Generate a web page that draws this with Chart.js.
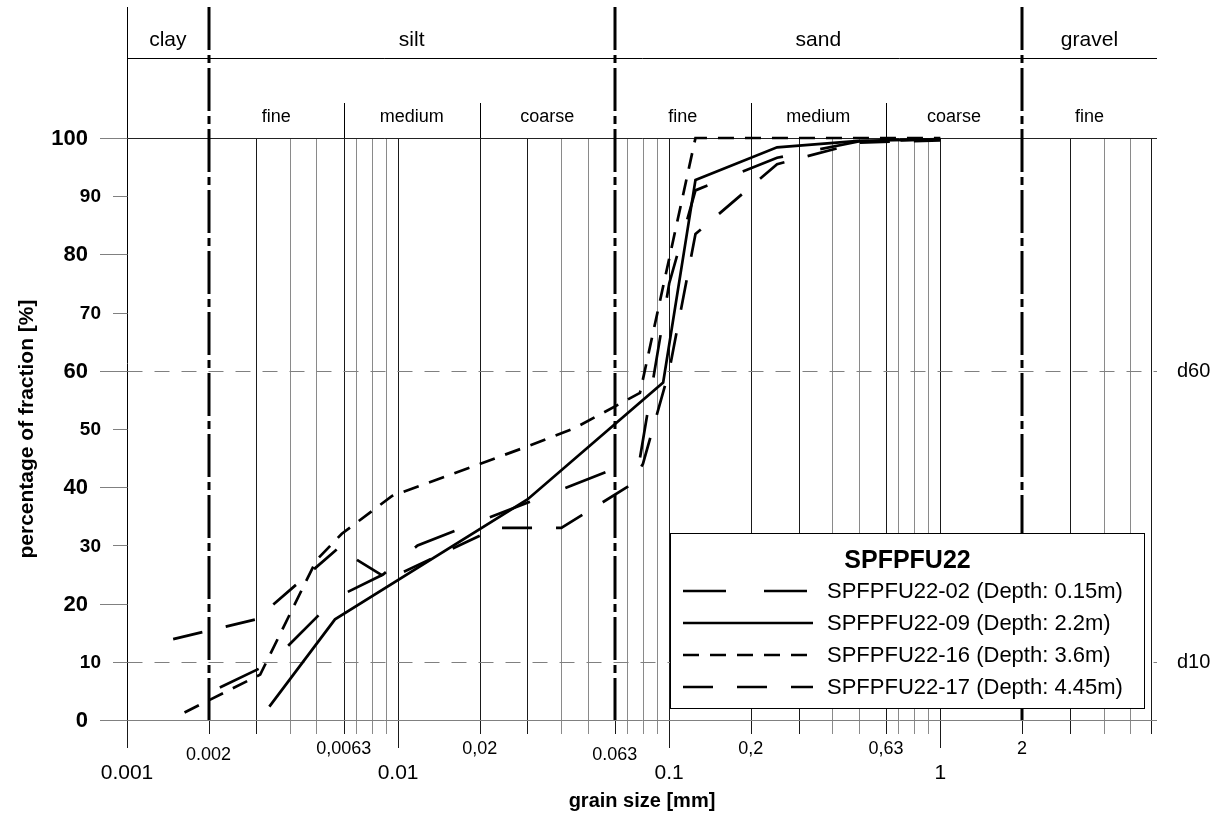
<!DOCTYPE html>
<html>
<head>
<meta charset="utf-8">
<title>SPFPFU22 grain size distribution</title>
<script src="https://cdn.jsdelivr.net/npm/chart.js@4.4.1/dist/chart.umd.min.js"></script>
<style>
  html, body { margin: 0; padding: 0; background: #fff; }
  #wrap { width: 1221px; height: 814px; }
</style>
</head>
<body>
<div id="wrap"><canvas id="grain-curve"></canvas></div>
<script>
const FONT = '"Liberation Sans", Arial, sans-serif';
Chart.defaults.font.family = FONT;

// grain size [mm] / passing [%] per sample
const size02 = [0.0022, 0.0034, 0.0059, 0.0088, 0.0118, 0.06, 0.078, 0.1, 0.125, 0.25, 0.5, 1.0];
const pass02 = [5.6, 9.8, 21, 25, 30, 42.8, 45, 75, 91, 96.6, 99.4, 99.8];

const size09 = [0.00335, 0.00585, 0.03, 0.095, 0.125, 0.25, 0.5, 1.0];
const pass09 = [2.3, 17.3, 37.9, 58, 92.8, 98.4, 99.5, 99.8];

const size16 = [0.00163, 0.0031, 0.005, 0.0062, 0.0095, 0.03, 0.045, 0.078, 0.125, 0.25, 0.5, 1.0];
const pass16 = [1.3, 7.8, 27.5, 32, 38.5, 47, 50.2, 56.2, 100, 100, 100, 100];

const size17 = [0.00148, 0.003, 0.006, 0.0092, 0.023, 0.04, 0.071, 0.08, 0.1, 0.125, 0.25, 0.5, 1.0];
const pass17 = [13.9, 17.3, 29.5, 24.2, 33, 33, 40.2, 44, 60, 83.5, 95.5, 99.2, 99.6];

const sampleNames = ['SPFPFU22-02 (Depth: 0.15m)', 'SPFPFU22-09 (Depth: 2.2m)',
                     'SPFPFU22-16 (Depth: 3.6m)', 'SPFPFU22-17 (Depth: 4.45m)'];

// soil classes along the size axis
const mainClasses = ['clay', 'silt', 'sand', 'gravel'];
const mainLimits = [0.001, 0.002, 0.063, 2, 6.3];
const subClasses = ['fine', 'medium', 'coarse', 'fine', 'medium', 'coarse', 'fine'];
const subLimits = [0.002, 0.0063, 0.02, 0.063, 0.2, 0.63, 2, 6.3];

// axis labelling
const decadeTicks = [0.001, 0.01, 0.1, 1];
const decadeLabels = ['0.001', '0.01', '0.1', '1'];
const limitTicks = [0.002, 0.0063, 0.02, 0.063, 0.2, 0.63, 2];
const limitLabels = ['0.002', '0,0063', '0,02', '0.063', '0,2', '0,63', '2'];
const yTicks = [0, 10, 20, 30, 40, 50, 60, 70, 80, 90, 100];
const dLines = [60, 10];
const dLabels = ['d60', 'd10'];

const pts = (s, p) => s.map((v, i) => ({ x: v, y: p[i] }));
const f = (px, bold) => (bold ? 'bold ' : '') + px + 'px ' + FONT;
const near = (a, b) => Math.abs(a / b - 1) < 1e-6;

// vertical grid: 1..9 per decade, the 0.0063-type limits replace the 6-lines
function gridValues() {
  const out = [];
  for (const d of decadeTicks) {
    for (let m = 1; m <= 9; m++) {
      const v = m * d;
      if (v > 6.3 + 1e-9) continue;
      if (m === 6 && d < 1) { out.push({ v: 6.3 * d, dark: true }); continue; }
      out.push({ v, dark: m === 1 || m === 2 || m === 3 || m === 6 });
    }
  }
  return out;
}
const thickValues = [0.002, 0.063, 2];

const sieveFrame = {
  id: 'sieveFrame',
  beforeDatasetsDraw(chart) {
    const { ctx, chartArea: a, scales: { x, y } } = chart;
    const yTop = 7, yMid = 58, ySub = 103;
    const y0 = y.getPixelForValue(0), y100 = y.getPixelForValue(100);
    ctx.save();
    ctx.lineCap = 'butt';

    // vertical grid lines and x ticks
    for (const g of gridValues()) {
      const px = Math.round(x.getPixelForValue(g.v)) + 0.5;
      const isThick = thickValues.some(t => near(t, g.v));
      const isDecade = decadeTicks.some(t => near(t, g.v));
      ctx.strokeStyle = g.dark ? '#1a1a1a' : '#8a8a8a';
      ctx.lineWidth = 1;
      ctx.beginPath();
      if (!isThick && !near(g.v, 0.001)) { ctx.moveTo(px, y100); ctx.lineTo(px, y0); }
      ctx.moveTo(px, y0);
      ctx.lineTo(px, y0 + (isDecade ? 28 : 14));
      ctx.stroke();
    }

    // left axis line running through the header
    const xl = Math.round(a.left) + 0.5;
    ctx.strokeStyle = '#000';
    ctx.beginPath(); ctx.moveTo(xl, yTop); ctx.lineTo(xl, y0); ctx.stroke();

    // header rules
    const xr = a.right;
    ctx.beginPath();
    ctx.moveTo(xl, yMid + 0.5); ctx.lineTo(xr, yMid + 0.5);
    ctx.stroke();
    ctx.strokeStyle = '#222';
    ctx.beginPath();
    ctx.moveTo(xl, Math.round(y100) + 0.5); ctx.lineTo(xr, Math.round(y100) + 0.5);
    ctx.stroke();
    ctx.strokeStyle = '#000';
    for (const v of [0.0063, 0.02, 0.2, 0.63]) {
      const px = Math.round(x.getPixelForValue(v)) + 0.5;
      ctx.beginPath(); ctx.moveTo(px, ySub); ctx.lineTo(px, y100); ctx.stroke();
    }

    // y ticks, 0 axis, d-lines
    ctx.strokeStyle = '#808080';
    for (const v of yTicks) {
      const py = Math.round(y.getPixelForValue(v)) + 0.5;
      ctx.beginPath(); ctx.moveTo(v % 20 === 0 ? 100 : 113, py); ctx.lineTo(xl, py); ctx.stroke();
    }
    ctx.beginPath(); ctx.moveTo(xl, Math.round(y0) + 0.5); ctx.lineTo(xr, Math.round(y0) + 0.5); ctx.stroke();
    ctx.setLineDash([15, 12]);
    for (const v of dLines) {
      const py = Math.round(y.getPixelForValue(v)) + 0.5;
      ctx.beginPath(); ctx.moveTo(xl, py); ctx.lineTo(xr, py); ctx.stroke();
    }

    // class limits: heavy dash-dot lines
    ctx.strokeStyle = '#000';
    ctx.lineWidth = 3;
    ctx.setLineDash([43, 5, 8, 5]);
    for (const v of thickValues) {
      const px = Math.round(x.getPixelForValue(v));
      ctx.beginPath(); ctx.moveTo(px, yTop); ctx.lineTo(px, y0); ctx.stroke();
    }
    ctx.setLineDash([]);

    // header texts
    ctx.fillStyle = '#000';
    ctx.textAlign = 'center';
    ctx.textBaseline = 'middle';
    ctx.font = f(21);
    mainClasses.forEach((name, i) => {
      const cx = (x.getPixelForValue(mainLimits[i]) + x.getPixelForValue(mainLimits[i + 1])) / 2;
      ctx.fillText(name, cx, 40);
    });
    ctx.font = f(18);
    subClasses.forEach((name, i) => {
      const cx = (x.getPixelForValue(subLimits[i]) + x.getPixelForValue(subLimits[i + 1])) / 2;
      ctx.fillText(name, cx, 117);
    });

    // y labels
    ctx.textAlign = 'right';
    for (const v of yTicks) {
      const major = v % 20 === 0;
      ctx.font = f(major ? 22 : 19, true);
      ctx.fillText(String(v), major ? 88 : 101, y.getPixelForValue(v) + 1);
    }
    ctx.textAlign = 'left';
    ctx.font = f(20);
    dLines.forEach((v, i) => ctx.fillText(dLabels[i], 1177, y.getPixelForValue(v) + 1));

    // x labels
    ctx.textAlign = 'center';
    ctx.font = f(21);
    decadeTicks.forEach((v, i) => ctx.fillText(decadeLabels[i], x.getPixelForValue(v), 773));
    ctx.font = f(18);
    limitTicks.forEach((v, i) => {
      const t = limitLabels[i];
      ctx.fillText(t, x.getPixelForValue(v), t.includes('.') ? 755 : 749);
    });

    // axis titles
    ctx.font = f(20, true);
    ctx.fillText('grain size [mm]', (a.left + a.right) / 2, 801);
    ctx.save();
    ctx.translate(27, (y0 + y100) / 2);
    ctx.rotate(-Math.PI / 2);
    ctx.font = f(21, true);
    ctx.fillText('percentage of fraction [%]', 0, 0);
    ctx.restore();

    ctx.restore();
  },
  afterDatasetsDraw(chart) {
    const { ctx } = chart;
    const bx = 670.5, by = 533.5, bw = 474, bh = 175;
    ctx.save();
    ctx.fillStyle = '#fff';
    ctx.fillRect(bx, by, bw, bh);
    ctx.strokeStyle = '#000';
    ctx.lineWidth = 1;
    ctx.strokeRect(bx, by, bw, bh);
    ctx.fillStyle = '#000';
    ctx.textAlign = 'center';
    ctx.textBaseline = 'middle';
    ctx.font = f(25, true);
    ctx.fillText('SPFPFU22', bx + bw / 2, 561);
    ctx.textAlign = 'left';
    ctx.font = f(22);
    chart.data.datasets.forEach((ds, i) => {
      const ly = 591 + i * 32;
      ctx.lineWidth = ds.borderWidth;
      ctx.setLineDash(ds.borderDash);
      ctx.beginPath(); ctx.moveTo(683, ly); ctx.lineTo(813, ly); ctx.stroke();
      ctx.setLineDash([]);
      ctx.fillText(ds.label, 827, ly + 1);
    });
    ctx.restore();
  }
};

const lineStyle = (label, data, dash) => ({
  label, data,
  borderColor: '#000',
  borderWidth: 2.7,
  borderDash: dash,
  pointRadius: 0,
  tension: 0,
  fill: false,
  clip: 6
});

new Chart(document.getElementById('grain-curve'), {
  type: 'line',
  data: {
    datasets: [
      lineStyle(sampleNames[0], pts(size02, pass02), [43, 38]),
      lineStyle(sampleNames[1], pts(size09, pass09), []),
      lineStyle(sampleNames[2], pts(size16, pass16), [16, 11]),
      lineStyle(sampleNames[3], pts(size17, pass17), [30, 24])
    ]
  },
  options: {
    responsive: true,
    maintainAspectRatio: false,
    animation: false,
    layout: { padding: { left: 127, right: 64, top: 138, bottom: 94 } },
    scales: {
      x: { type: 'logarithmic', min: 0.001, max: 6.3, display: false },
      y: { type: 'linear', min: 0, max: 100, display: false }
    },
    plugins: { legend: { display: false }, tooltip: { enabled: false } }
  },
  plugins: [sieveFrame]
});
</script>
</body>
</html>
